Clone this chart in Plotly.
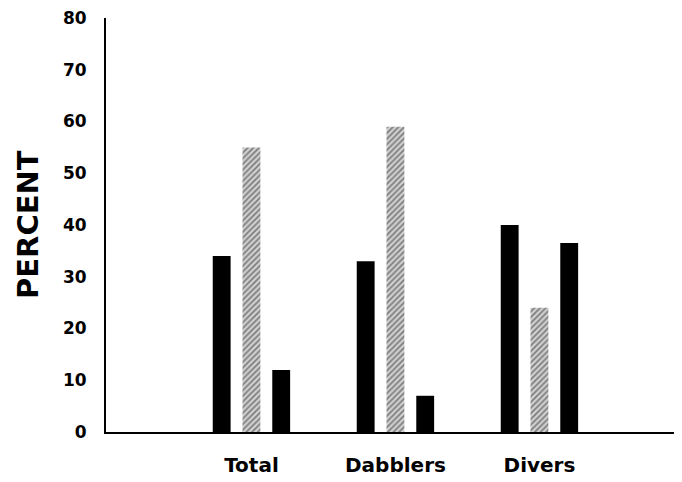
import plotly.graph_objects as go

categories = ["Total", "Dabblers", "Divers"]
series_a = [34, 33, 40]
series_b = [55, 59, 24]
series_c = [12, 7, 36.5]
y_ticks = [0, 10, 20, 30, 40, 50, 60, 70, 80]

FONT = "DejaVu Sans"

fig = go.Figure()
fig.add_trace(go.Bar(x=categories, y=series_a, marker=dict(color="#000000", line=dict(width=0)), showlegend=False))
fig.add_trace(go.Bar(x=categories, y=series_b,
                     marker=dict(color="#c8c8c8", line=dict(width=0),
                                 pattern=dict(shape="/", fgcolor="#262626", bgcolor="#cfcfcf",
                                              size=4, solidity=0.4, fillmode="overlay")),
                     showlegend=False))
fig.add_trace(go.Bar(x=categories, y=series_c, marker=dict(color="#000000", line=dict(width=0)), showlegend=False))

fig.update_layout(
    width=674, height=474,
    margin=dict(l=98, r=0, t=8, b=50),
    paper_bgcolor="white", plot_bgcolor="white",
    barmode="group", bargap=0.38, bargroupgap=0.4,
    font=dict(family=FONT, color="black"),
    xaxis=dict(range=[-1.01, 2.99], showline=True, linecolor="black", linewidth=2,
               showgrid=False, zeroline=False, ticks="",
               tickfont=dict(family=FONT, size=20, weight="bold"), ticklabelstandoff=14),
    yaxis=dict(range=[0, 80], tickvals=y_ticks, showline=True, linecolor="black", linewidth=2,
               showgrid=False, zeroline=False, ticks="", ticklabeloverflow="allow",
               tickfont=dict(family=FONT, size=17, weight="bold"), ticklabelstandoff=14),
    annotations=[dict(text="<b>PERCENT</b>", xref="paper", yref="paper", x=0, y=0.5,
                      xanchor="center", yanchor="middle", xshift=-78, textangle=-90,
                      showarrow=False, font=dict(family=FONT, size=29, color="black"))],
)

fig.write_html("out.html")
